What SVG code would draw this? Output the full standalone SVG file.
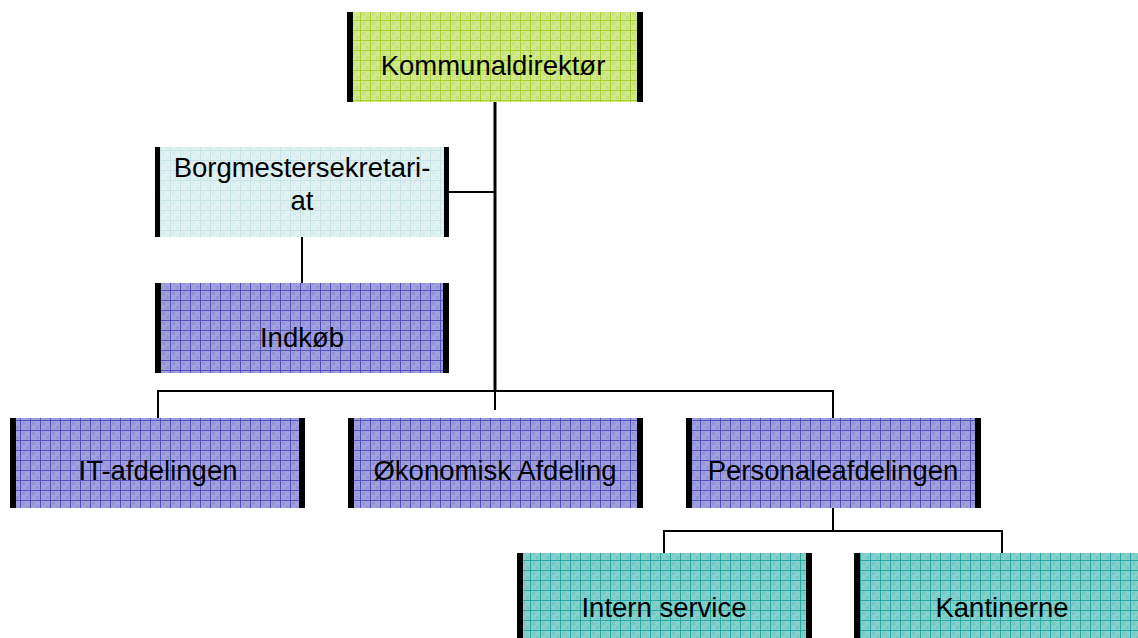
<svg xmlns="http://www.w3.org/2000/svg" width="1138" height="638" viewBox="0 0 1138 638">
<defs>
<pattern id="pGreen" patternUnits="userSpaceOnUse" width="10" height="10">
<rect width="10" height="10" fill="#d2e88e"/>
<rect x="2" y="2" width="3" height="3" fill="#c8e07a"/>
<rect x="6" y="6" width="3" height="3" fill="#c8e07a"/>
<path d="M0 0.5H10M0.5 0V10" stroke="#a6d12c" stroke-width="1"/>
</pattern>
<pattern id="pLight" patternUnits="userSpaceOnUse" width="10" height="10">
<rect width="10" height="10" fill="#e1f1f2"/>
<rect x="2" y="2" width="3" height="3" fill="#d8eced"/>
<rect x="6" y="6" width="3" height="3" fill="#d8eced"/>
<path d="M0 0.5H10M0.5 0V10" stroke="#c6e3e5" stroke-width="1"/>
</pattern>
<pattern id="pBlue" patternUnits="userSpaceOnUse" width="10" height="10">
<rect width="10" height="10" fill="#a0a0dc"/>
<rect x="2" y="2" width="3" height="3" fill="#9494d2"/>
<rect x="6" y="6" width="3" height="3" fill="#9494d2"/>
<path d="M0 0.5H10M0.5 0V10" stroke="#5050b8" stroke-width="1"/>
</pattern>
<pattern id="pTeal" patternUnits="userSpaceOnUse" width="10" height="10">
<rect width="10" height="10" fill="#84d0cc"/>
<rect x="2" y="2" width="3" height="3" fill="#78c6c2"/>
<rect x="6" y="6" width="3" height="3" fill="#78c6c2"/>
<path d="M0 0.5H10M0.5 0V10" stroke="#28a6a2" stroke-width="1"/>
</pattern>
</defs>
<style>
.lbl{font-family:"Liberation Sans",Arial,sans-serif;font-size:27.5px;fill:#000;text-anchor:middle}
.bar{fill:#000}
.con{stroke:#000;fill:none;stroke-width:2}
.trunk{stroke:#000;fill:none;stroke-width:3}
</style>
<g id="connectors">
<path class="trunk" d="M495 102V391"/>
<path class="con" d="M495 391V410"/>
<path class="con" d="M449 192H495"/>
<path class="con" d="M302 237V283"/>
<path class="con" d="M158 418V391H833V418"/>
<path class="con" d="M833 508V531"/>
<path class="con" d="M664 553V531H1002V553"/>
</g>
<g id="kommunaldirektor">
<rect x="347" y="12" width="296" height="90" fill="url(#pGreen)"/>
<rect class="bar" x="347" y="12" width="6" height="90"/>
<rect class="bar" x="637" y="12" width="6" height="90"/>
<text class="lbl" x="493" y="75">Kommunaldirektør</text>
</g>
<g id="borgmestersekretariat">
<rect x="155" y="147" width="294" height="90" fill="url(#pLight)"/>
<rect class="bar" x="155" y="147" width="5" height="90"/>
<rect class="bar" x="444" y="147" width="5" height="90"/>
<text class="lbl" x="302" y="177">Borgmestersekretari-</text>
<text class="lbl" x="302" y="210">at</text>
</g>
<g id="indkob">
<rect x="155" y="283" width="294" height="90" fill="url(#pBlue)"/>
<rect class="bar" x="155" y="283" width="6" height="90"/>
<rect class="bar" x="443" y="283" width="6" height="90"/>
<text class="lbl" x="302" y="347">Indkøb</text>
</g>
<g id="it-afdelingen">
<rect x="10" y="418" width="295" height="90" fill="url(#pBlue)"/>
<rect class="bar" x="10" y="418" width="6" height="90"/>
<rect class="bar" x="299" y="418" width="6" height="90"/>
<text class="lbl" x="158" y="480">IT-afdelingen</text>
</g>
<g id="okonomisk-afdeling">
<rect x="348" y="418" width="295" height="90" fill="url(#pBlue)"/>
<rect class="bar" x="348" y="418" width="6" height="90"/>
<rect class="bar" x="637" y="418" width="6" height="90"/>
<text class="lbl" x="495" y="480">Økonomisk Afdeling</text>
</g>
<g id="personaleafdelingen">
<rect x="686" y="418" width="295" height="90" fill="url(#pBlue)"/>
<rect class="bar" x="686" y="418" width="6" height="90"/>
<rect class="bar" x="975" y="418" width="6" height="90"/>
<text class="lbl" x="833" y="480">Personaleafdelingen</text>
</g>
<g id="intern-service">
<rect x="517" y="553" width="295" height="90" fill="url(#pTeal)"/>
<rect class="bar" x="517" y="553" width="6" height="90"/>
<rect class="bar" x="806" y="553" width="6" height="90"/>
<text class="lbl" x="664" y="617">Intern service</text>
</g>
<g id="kantinerne">
<rect x="854" y="553" width="295" height="90" fill="url(#pTeal)"/>
<rect class="bar" x="854" y="553" width="6" height="90"/>
<rect class="bar" x="1143" y="553" width="6" height="90"/>
<text class="lbl" x="1002" y="617">Kantinerne</text>
</g>
</svg>
